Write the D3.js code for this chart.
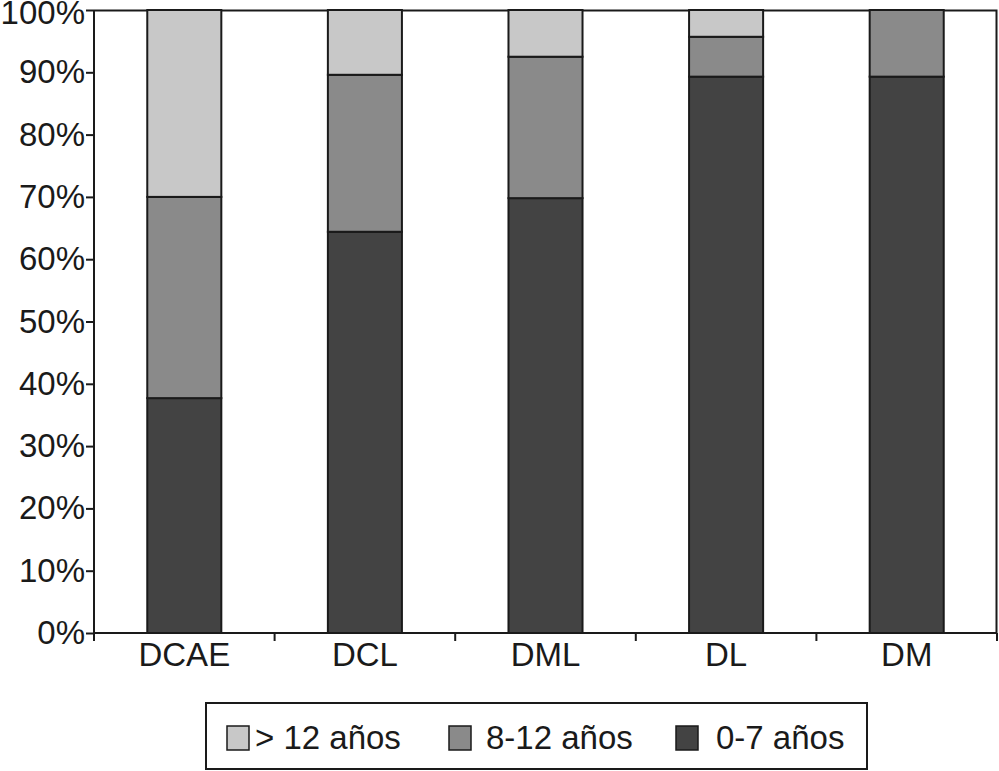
<!DOCTYPE html>
<html>
<head>
<meta charset="utf-8">
<script src="https://cdn.jsdelivr.net/npm/d3@7"></script>
<style>
  body { margin: 0; background: #fff; }
  text { font-family: "Liberation Sans", Arial, Helvetica, sans-serif; fill: #1a1a1a; }
</style>
</head>
<body>
<div id="chart"></div>
<script>
// categories and stacked series (percent)
var categories = ["DCAE", "DCL", "DML", "DL", "DM"];
var seriesKeys = ["0-7 años", "8-12 años", "> 12 años"];
var young = [37.7, 64.4, 69.8, 89.3, 89.3];
var middle = [32.3, 25.2, 22.7, 6.4, 10.7];
var old = [30.0, 10.4, 7.5, 4.3, 0];
var yTicks = [0, 10, 20, 30, 40, 50, 60, 70, 80, 90, 100];
var legendOrder = ["> 12 años", "8-12 años", "0-7 años"];

var colors = {
  "0-7 años": "#434343",
  "8-12 años": "#8a8a8a",
  "> 12 años": "#c8c8c8"
};

var svgWidth = 999;
var svgHeight = 771;
var margin = { top: 10, right: 2, bottom: 138, left: 94 };
var chartWidth = svgWidth - margin.left - margin.right;
var chartHeight = svgHeight - margin.top - margin.bottom;
var fontSize = 33;

var svg = d3.select("#chart")
  .append("svg")
  .attr("width", svgWidth)
  .attr("height", svgHeight);

var chartGroup = svg.append("g")
  .attr("transform", `translate(${margin.left}, ${margin.top})`);

// build rows for the stack
var rows = categories.map(function(c, i) {
  return { cat: c, "0-7 años": young[i], "8-12 años": middle[i], "> 12 años": old[i] };
});
var stacked = d3.stack().keys(seriesKeys)(rows);

var xScale = d3.scaleBand()
  .domain(categories)
  .range([0, chartWidth])
  .paddingInner(0)
  .paddingOuter(0);

var yScale = d3.scaleLinear()
  .domain([0, 100])
  .range([chartHeight, 0]);

// plot frame (top and right)
chartGroup.append("path")
  .attr("d", `M0,0.5H${chartWidth - 0.5}V${chartHeight}`)
  .attr("fill", "none")
  .attr("stroke", "#1a1a1a")
  .attr("stroke-width", 2);

// bars
var barWidth = xScale.bandwidth() * 0.41;
chartGroup.selectAll(".layer")
  .data(stacked)
  .enter()
  .append("g")
  .attr("fill", d => colors[d.key])
  .selectAll("rect")
  .data(d => d.filter(s => s[1] - s[0] > 0))
  .enter()
  .append("rect")
  .attr("x", d => xScale(d.data.cat) + (xScale.bandwidth() - barWidth) / 2)
  .attr("y", d => yScale(d[1]))
  .attr("width", barWidth)
  .attr("height", d => yScale(d[0]) - yScale(d[1]))
  .attr("stroke", "#1a1a1a")
  .attr("stroke-width", 2);

// y axis
var leftAxis = d3.axisLeft(yScale)
  .tickValues(yTicks)
  .tickFormat(d => d + "%")
  .tickSize(8)
  .tickPadding(1);

var yAxis = chartGroup.append("g").call(leftAxis);
yAxis.select(".domain").attr("d", `M0,0V${chartHeight}`);

// x axis with ticks on category boundaries
var bottomAxis = d3.axisBottom(xScale).tickSize(0).tickPadding(8);
var xAxis = chartGroup.append("g")
  .attr("transform", `translate(0, ${chartHeight})`)
  .call(bottomAxis);
xAxis.select(".domain").attr("d", `M0,0H${chartWidth}`);

var boundaries = d3.range(categories.length + 1).map(i => i * xScale.step());
xAxis.selectAll(".boundary")
  .data(boundaries)
  .enter()
  .append("line")
  .attr("x1", d => d)
  .attr("x2", d => d)
  .attr("y1", 0)
  .attr("y2", 8)
  .attr("stroke", "#1a1a1a")
  .attr("stroke-width", 2);

svg.selectAll(".domain").attr("stroke", "#1a1a1a").attr("stroke-width", 2);
svg.selectAll(".tick line").attr("stroke", "#1a1a1a").attr("stroke-width", 2);
svg.selectAll(".tick text")
  .attr("font-size", fontSize)
  .attr("fill", "#1a1a1a")
  .style("font-family", '"Liberation Sans", Arial, sans-serif');
xAxis.selectAll(".tick text").attr("dy", "0.75em");
// keep the top label inside the page
yAxis.selectAll(".tick text").filter(d => d === 100).attr("dy", "0.41em");

// legend
var legend = svg.append("g").attr("transform", "translate(206, 703)");
legend.append("rect")
  .attr("x", 0)
  .attr("y", 0)
  .attr("width", 661)
  .attr("height", 66)
  .attr("fill", "#fff")
  .attr("stroke", "#1a1a1a")
  .attr("stroke-width", 2);

var legendX = [21, 243, 470];
var textX = [49, 280, 510];
legendOrder.forEach(function(key, i) {
  legend.append("rect")
    .attr("x", legendX[i])
    .attr("y", 23)
    .attr("width", 22)
    .attr("height", 24)
    .attr("fill", colors[key])
    .attr("stroke", "#1a1a1a")
    .attr("stroke-width", 1.5);
  legend.append("text")
    .attr("x", textX[i])
    .attr("y", 46)
    .attr("font-size", fontSize)
    .text(key);
});
</script>
</body>
</html>
